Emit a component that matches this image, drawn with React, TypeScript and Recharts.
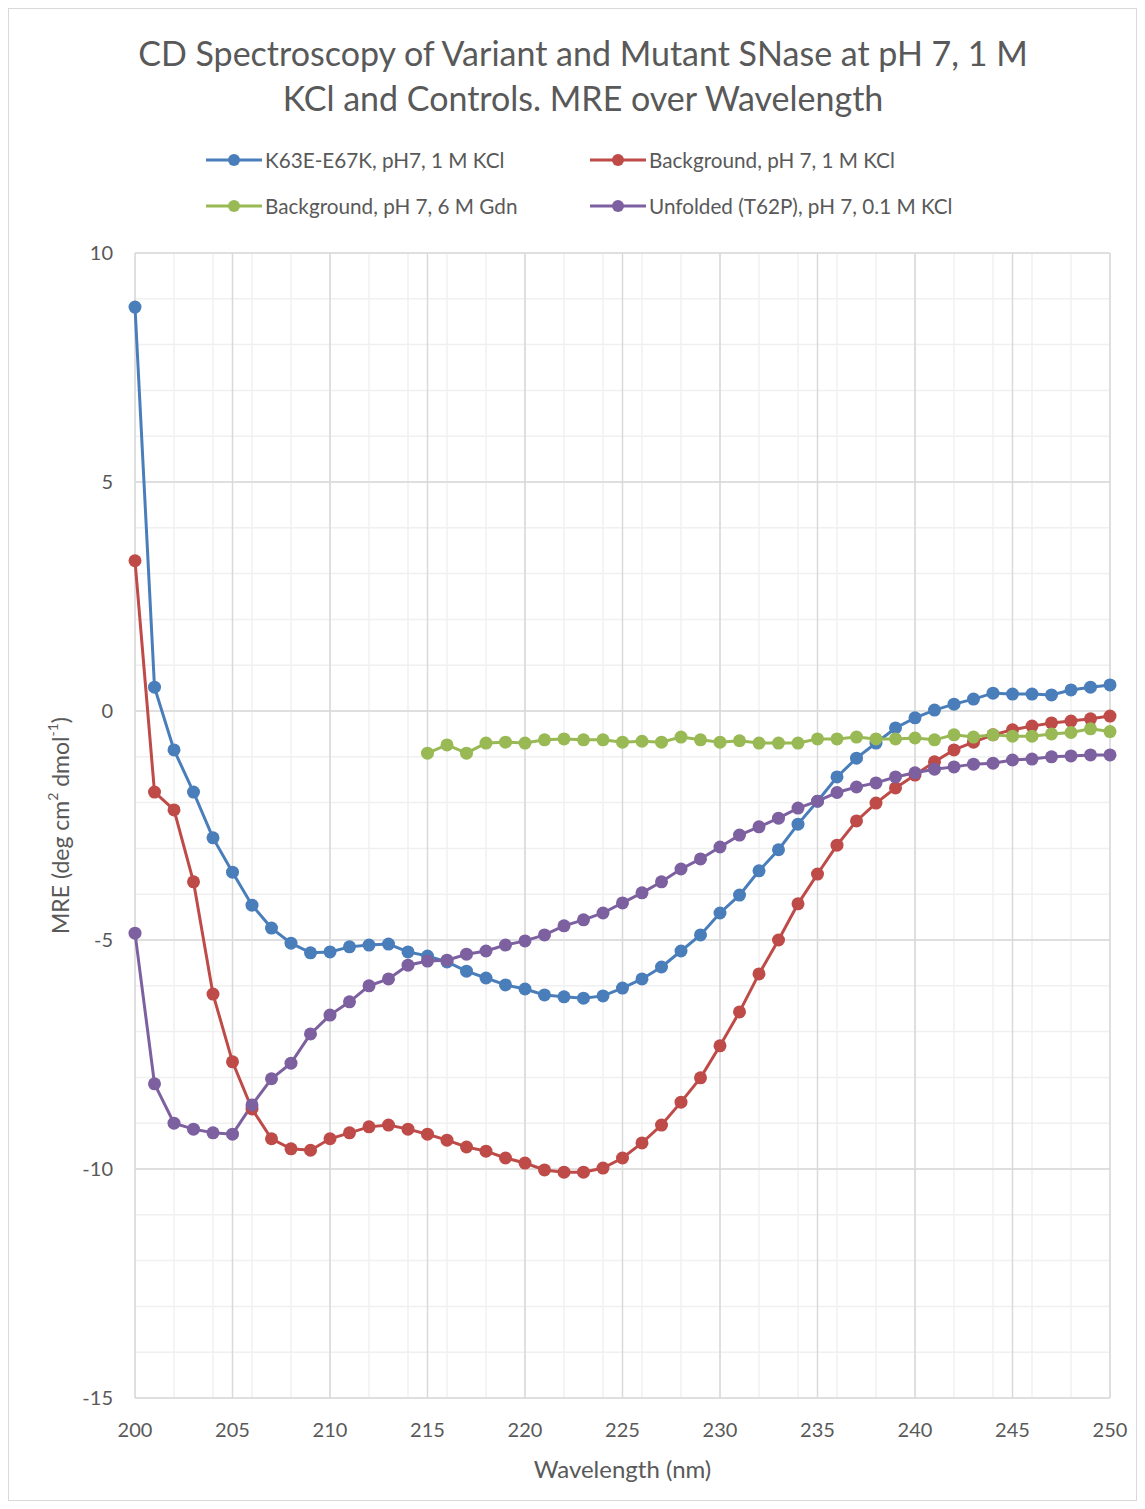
import React from 'react';
import { LineChart, Line, XAxis, YAxis, CartesianGrid } from 'recharts';

const FONT = "Lato, 'Open Sans', sans-serif";
const TEXT = '#595959';

const wavelengths = [
  200, 201, 202, 203, 204, 205, 206, 207, 208, 209,
  210, 211, 212, 213, 214, 215, 216, 217, 218, 219,
  220, 221, 222, 223, 224, 225, 226, 227, 228, 229,
  230, 231, 232, 233, 234, 235, 236, 237, 238, 239,
  240, 241, 242, 243, 244, 245, 246, 247, 248, 249, 250,
];

const k63eValues = [
  8.82, 0.52, -0.85, -1.77, -2.77, -3.52, -4.24, -4.74, -5.07, -5.28,
  -5.26, -5.15, -5.11, -5.09, -5.26, -5.35, -5.48, -5.68, -5.83, -5.98,
  -6.07, -6.2, -6.24, -6.27, -6.22, -6.05, -5.85, -5.59, -5.24, -4.89,
  -4.41, -4.02, -3.49, -3.03, -2.47, -1.97, -1.44, -1.03, -0.7, -0.37,
  -0.15, 0.02, 0.15, 0.26, 0.39, 0.37, 0.37, 0.35, 0.46, 0.52, 0.57,
];

const bgKclValues = [
  3.28, -1.77, -2.16, -3.73, -6.18, -7.66, -8.69, -9.34, -9.56, -9.59,
  -9.34, -9.21, -9.08, -9.04, -9.13, -9.24, -9.37, -9.52, -9.61, -9.76,
  -9.87, -10.02, -10.07, -10.07, -9.98, -9.76, -9.43, -9.04, -8.54, -8.01,
  -7.31, -6.57, -5.74, -5.0, -4.21, -3.56, -2.93, -2.4, -2.01, -1.68,
  -1.4, -1.11, -0.85, -0.68, -0.52, -0.41, -0.33, -0.26, -0.22, -0.17, -0.11,
];

const bgGdnValues = [
  null, null, null, null, null, null, null, null, null, null,
  null, null, null, null, null, -0.92, -0.74, -0.92, -0.7, -0.68,
  -0.7, -0.63, -0.61, -0.63, -0.63, -0.68, -0.66, -0.68, -0.57, -0.63,
  -0.68, -0.65, -0.7, -0.7, -0.7, -0.61, -0.61, -0.57, -0.61, -0.61,
  -0.59, -0.63, -0.52, -0.57, -0.52, -0.55, -0.55, -0.5, -0.47, -0.39, -0.45,
];

const unfoldedValues = [
  -4.85, -8.14, -9.0, -9.13, -9.21, -9.24, -8.6, -8.03, -7.69, -7.05,
  -6.64, -6.35, -6.0, -5.85, -5.55, -5.46, -5.44, -5.31, -5.24, -5.11,
  -5.02, -4.89, -4.69, -4.56, -4.41, -4.19, -3.97, -3.73, -3.45, -3.23,
  -2.97, -2.71, -2.53, -2.34, -2.12, -1.97, -1.78, -1.66, -1.57, -1.44,
  -1.35, -1.27, -1.22, -1.16, -1.14, -1.07, -1.05, -1.0, -0.98, -0.96, -0.96,
];

const xTicks = [200, 205, 210, 215, 220, 225, 230, 235, 240, 245, 250];
const yTicks = [-15, -10, -5, 0, 5, 10];
const xMinor = wavelengths;
const yMinor = [-15, -14, -13, -12, -11, -10, -9, -8, -7, -6, -5, -4, -3, -2, -1, 0, 1, 2, 3, 4, 5, 6, 7, 8, 9, 10];

const series = [
  { key: 'k63e', name: 'K63E-E67K, pH7, 1 M KCl', color: '#4A7EBB', values: k63eValues },
  { key: 'bgKcl', name: 'Background, pH 7, 1 M KCl', color: '#BE4B48', values: bgKclValues },
  { key: 'bgGdn', name: 'Background, pH 7, 6 M Gdn', color: '#98B954', values: bgGdnValues },
  { key: 'unfolded', name: 'Unfolded (T62P), pH 7, 0.1 M KCl', color: '#7D60A0', values: unfoldedValues },
];

const data = wavelengths.map((wl, i) => {
  const row: Record<string, number | null> = { wl };
  series.forEach((s) => { row[s.key] = s.values[i]; });
  return row;
});

// legend slots (container px) — 2x2 like the excel legend
const legendSlots = [
  { left: 197, top: 142 },
  { left: 581, top: 142 },
  { left: 197, top: 188 },
  { left: 581, top: 188 },
];

function YLabel(props: any) {
  const vb = props.viewBox || { x: 0, y: 0, width: 0, height: 0 };
  const cx = 51;
  const cy = vb.y + vb.height / 2;
  return (
    <text x={cx} y={cy} transform={`rotate(-90 ${cx} ${cy})`} textAnchor="middle" dominantBaseline="central"
      fill={TEXT} fontSize={23} fontFamily={FONT}>
      MRE (deg cm<tspan fontSize={14} dy={-8}>2</tspan><tspan dy={8}> dmol</tspan><tspan fontSize={14} dy={-8}>-1</tspan><tspan dy={8}>)</tspan>
    </text>
  );
}

export default function App() {
  return (
    <div style={{ position: 'relative', width: 1129, height: 1493, border: '1px solid #d9d9d9', boxSizing: 'border-box', background: '#fff', fontFamily: FONT }}>
      <div style={{ position: 'absolute', left: 24, top: 21, width: 1100, textAlign: 'center', fontSize: 34, lineHeight: '45px', color: TEXT }}>
        CD Spectroscopy of Variant and Mutant SNase at pH 7, 1 M<br />KCl and Controls. MRE over Wavelength
      </div>
      {series.map((s, i) => (
        <div key={s.key} style={{ position: 'absolute', left: legendSlots[i].left, top: legendSlots[i].top, display: 'flex', alignItems: 'center', height: 18, fontSize: 20.7, color: TEXT, whiteSpace: 'nowrap' }}>
          <svg width={56} height={16}>
            <line x1={0} y1={8} x2={56} y2={8} stroke={s.color} strokeWidth={3} />
            <circle cx={28} cy={8} r={6} fill={s.color} />
          </svg>
          <span style={{ marginLeft: 3 }}>{s.name}</span>
        </div>
      ))}
      <LineChart width={1127} height={1491} data={data} margin={{ top: 244, right: 26, bottom: 12, left: 0 }}>
        <CartesianGrid stroke="#f0f0f0" strokeWidth={1.5} verticalValues={xMinor} horizontalValues={yMinor} />
        <CartesianGrid stroke="#d9d9d9" strokeWidth={1.5} verticalValues={xTicks} horizontalValues={yTicks} />
        <XAxis dataKey="wl" type="number" domain={[200, 250]} ticks={xTicks}
          axisLine={false} tickLine={false} tickSize={0} tickMargin={25} height={90}
          tick={{ fill: TEXT, fontSize: 20, fontFamily: FONT }}
          label={{ value: 'Wavelength (nm)', position: 'insideBottom', offset: 10, fill: TEXT, fontSize: 24, fontFamily: FONT }} />
        <YAxis type="number" domain={[-15, 10]} ticks={yTicks}
          axisLine={false} tickLine={false} tickSize={0} tickMargin={22} width={126}
          tick={{ fill: TEXT, fontSize: 20, fontFamily: FONT }}
          label={(p: any) => <YLabel {...p} />} />
        {series.map((s) => (
          <Line key={s.key} dataKey={s.key} name={s.name} type="linear" stroke={s.color} strokeWidth={3}
            dot={{ r: 6.5, fill: s.color, stroke: s.color, strokeWidth: 0 }} activeDot={false}
            isAnimationActive={false} connectNulls={false} />
        ))}
      </LineChart>
    </div>
  );
}
